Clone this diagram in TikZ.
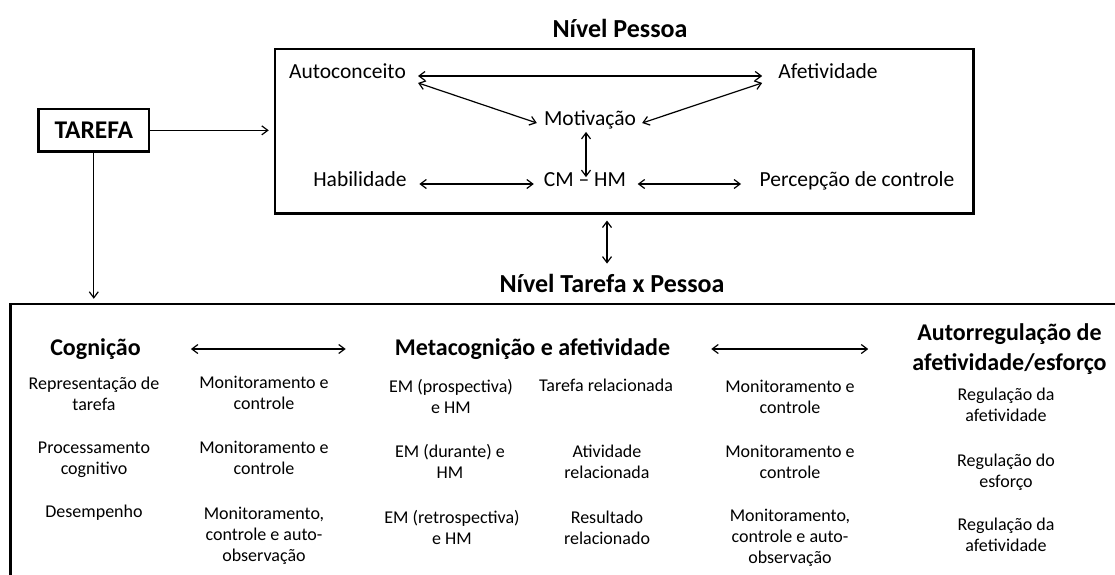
\documentclass[tikz,border=0pt]{standalone}
\usepackage{fontspec}
\setmainfont{Carlito}
\usetikzlibrary{arrows.meta}
\begin{document}
\begin{tikzpicture}[x=1pt,y=-1pt,
  txt/.style={inner sep=0pt, align=center, font=\fontsize{21.5}{26}\selectfont, text height=0.72em, text depth=0.22em},
  small/.style={inner sep=0pt, align=center, font=\fontsize{18}{21}\selectfont},
  head/.style={inner sep=0pt, align=center, font=\fontsize{26}{31}\selectfont\bfseries},
  subhead/.style={inner sep=0pt, align=center, font=\fontsize{24}{30}\selectfont\bfseries},
  frame/.style={draw, line width=2.5pt},
  tip/.tip={Straight Barb[length=6pt,width=9pt]},
  arr/.style={-tip, line width=1.2pt},
  dbl/.style={tip-tip, line width=1.2pt}]

\useasboundingbox (0,0) rectangle (1115,574);

% frames
\node[frame, minimum width=698.6pt, minimum height=164.3pt, inner sep=0pt] (pbox) at (624.3,131.15) {};
\node[frame, minimum width=110.4pt, minimum height=42.7pt, inner sep=0pt,
      font=\fontsize{25.5}{30}\selectfont\bfseries] (tarefa) at (93.8,130.35) {TAREFA};
\begin{scope}
  \clip (0,0) rectangle (1115,574);
  \node[frame, minimum width=1119.5pt, minimum height=286pt, inner sep=0pt] (tpbox) at (570.25,447) {};
\end{scope}

% headings
\node[head] (np) at (620,28) {Nível Pessoa};
\node[head] (ntp) at (612,283) {Nível Tarefa x Pessoa};

% person level
\node[txt] (auto) at (347.5,76) {Autoconceito};
\node[txt] (afet) at (828,76) {Afetividade};
\node[txt] (mot) at (590,123) {Motivação};
\node[txt] (hab) at (360,184) {Habilidade};
\node[txt] (cmhm) at (585,184) {CM – HM};
\node[txt] (perc) at (857,184) {Percepção de controle};

\draw[dbl, shorten <=12pt, shorten >=16pt] (auto.east) -- (afet.west);
\draw[dbl] ([xshift=12pt,yshift=-2pt]auto.south east) -- ([xshift=-7pt]mot.west);
\draw[dbl] ([xshift=6pt]mot.east) -- ([xshift=-16pt,yshift=-2pt]afet.south west);
\draw[dbl, shorten <=4pt, shorten >=2pt] ([xshift=-4pt]mot.south) -- ([xshift=-4pt]mot.south |- cmhm.north);
\draw[dbl, shorten <=12.5pt, shorten >=10pt] (hab.east) -- (cmhm.west);
\draw[dbl, shorten <=11.5pt, shorten >=18.5pt] (cmhm.east) -- (perc.west);

% connections between levels
\draw[arr, shorten >=5pt] (tarefa.east) -- (tarefa.east -| pbox.west);
\draw[arr, shorten >=4pt] (tarefa.south) -- (tarefa.south |- tpbox.north);
\draw[dbl, shorten <=6pt, shorten >=10pt] ([xshift=-5pt]ntp.north |- pbox.south) -- ([xshift=-5pt]ntp.north);

% task x person level headings
\node[subhead] (cog) at (95.5,349) {Cognição};
\node[subhead] (meta) at (532.5,349) {Metacognição e afetividade};
\node[subhead] (aut) at (1009.5,349) {Autorregulação de\\afetividade/esforço};
\draw[dbl, shorten <=50pt, shorten >=49pt] (cog.east) -- (meta.west);
\draw[dbl, shorten <=41pt, shorten >=44pt] (meta.east) -- (aut.west);

% rows
\node[small] (c1r1) at (94,394) {Representação de\\tarefa};
\node[small] (c1r2) at (94,460) {Processamento\\cognitivo};
\node[small] (c1r3) at (94,513) {Desempenho};
\node[small] (c2r1) at (264,393) {Monitoramento e\\controle};
\node[small] (c2r2) at (264,458) {Monitoramento e\\controle};
\node[small] (c2r3) at (264,536) {Monitoramento,\\controle e auto-\\observação};
\node[small] (c3r1) at (451,396) {EM (prospectiva)\\e HM};
\node[small] (c3r2) at (450,461.5) {EM (durante) e\\HM};
\node[small] (c3r3) at (452,527.5) {EM (retrospectiva)\\e HM};
\node[small] (c4r1) at (606,385) {Tarefa relacionada};
\node[small] (c4r2) at (607,461.5) {Atividade\\relacionada};
\node[small] (c4r3) at (607,527.5) {Resultado\\relacionado};
\node[small] (c5r1) at (790,397) {Monitoramento e\\controle};
\node[small] (c5r2) at (790,462) {Monitoramento e\\controle};
\node[small] (c5r3) at (790,538) {Monitoramento,\\controle e auto-\\observação};
\node[small] (c6r1) at (1006,405) {Regulação da\\afetividade};
\node[small] (c6r2) at (1006,472) {Regulação do\\esforço};
\node[small] (c6r3) at (1006,535) {Regulação da\\afetividade};
\end{tikzpicture}
\end{document}
